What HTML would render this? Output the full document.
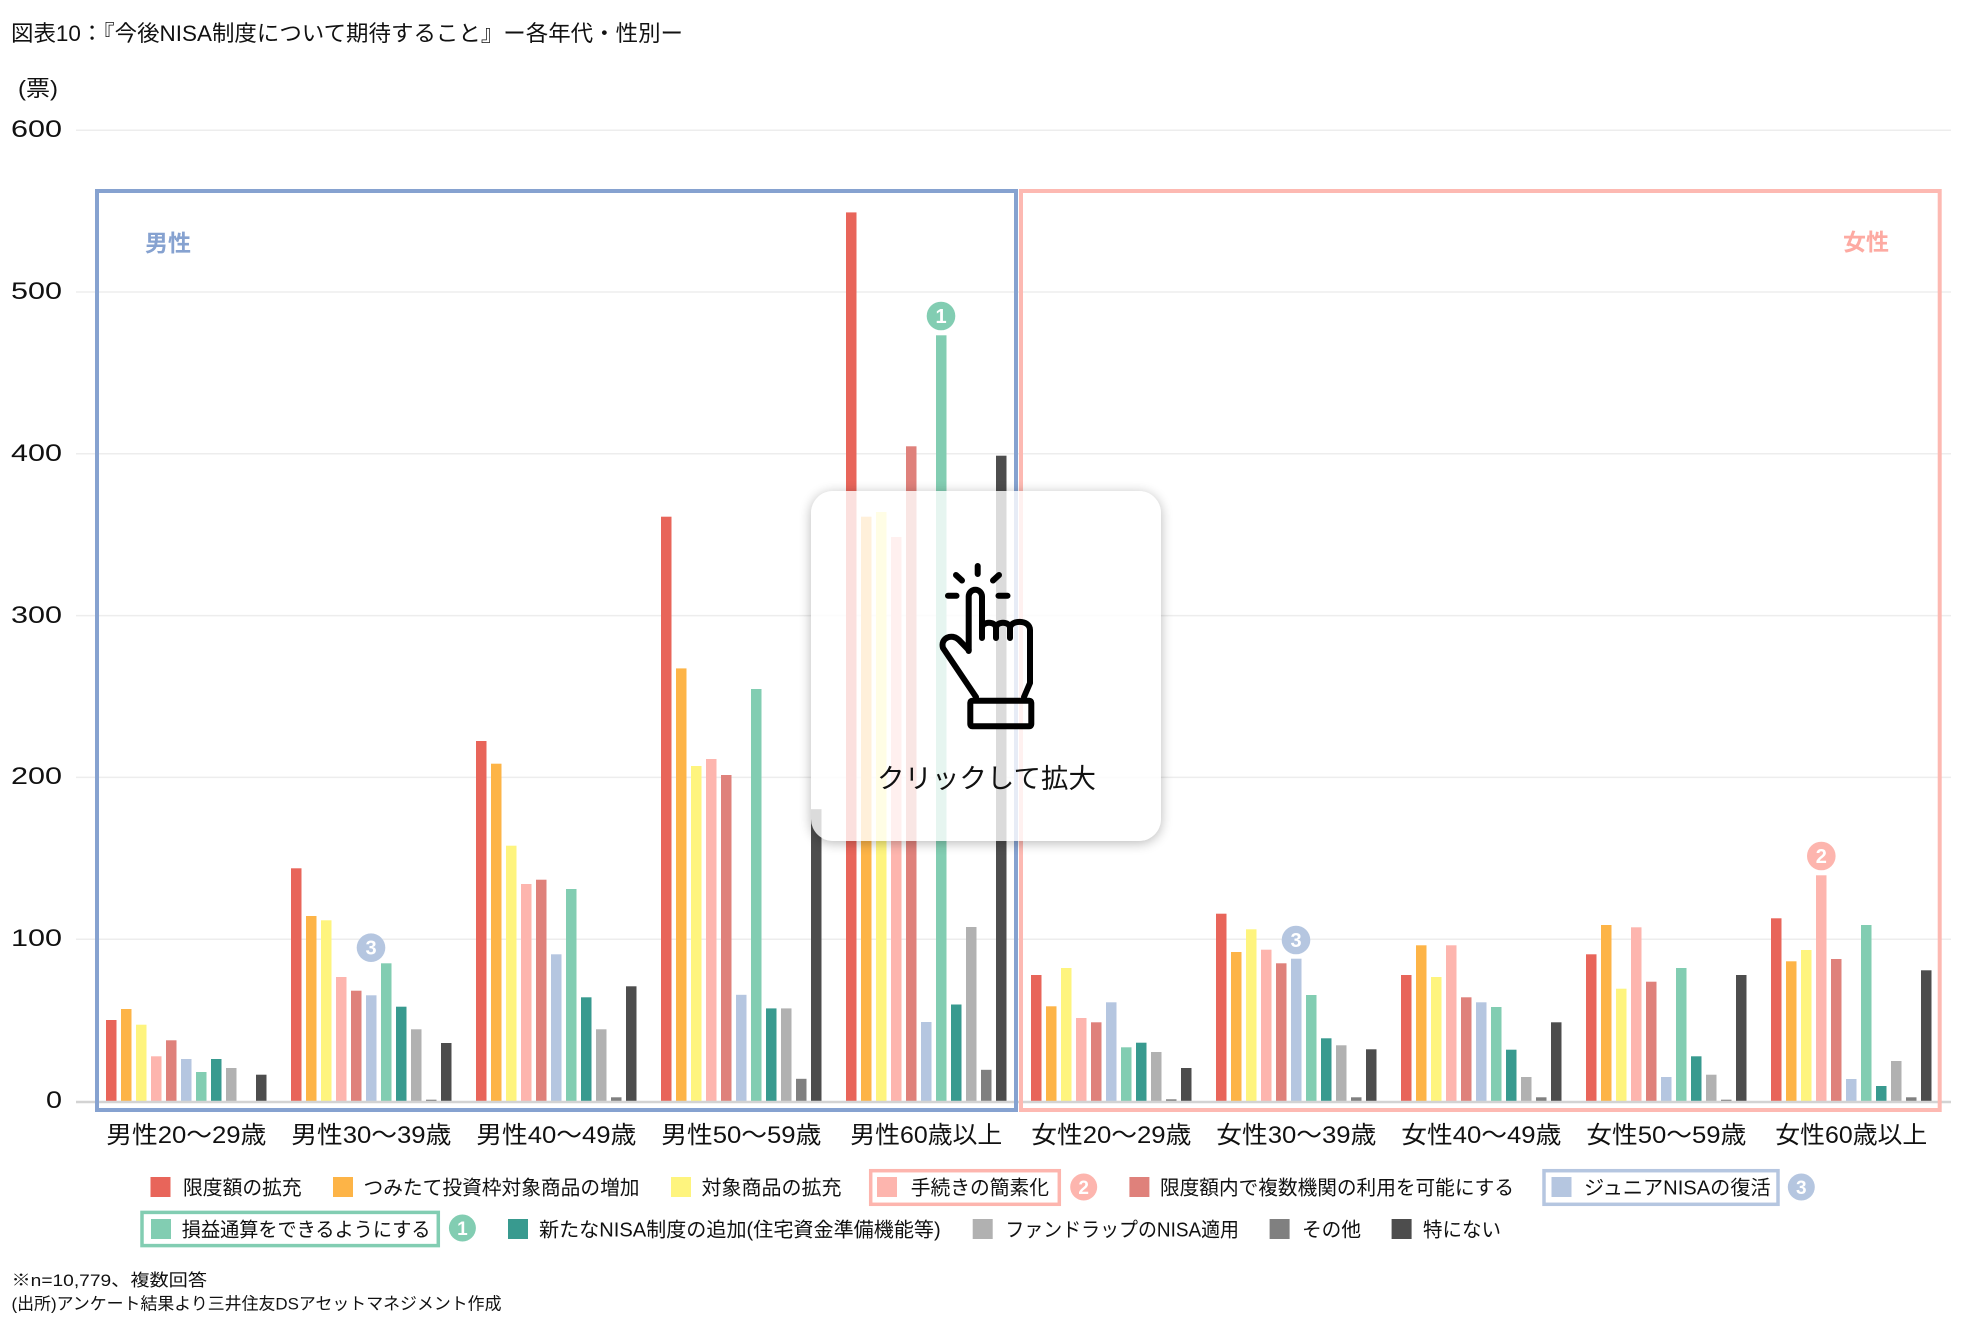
<!DOCTYPE html>
<html><head><meta charset="utf-8"><style>
html,body{margin:0;padding:0;background:#fff;}
body{width:1973px;height:1332px;overflow:hidden;}
svg{display:block;}
text{font-family:"Liberation Sans","Noto Sans CJK JP",sans-serif;}
</style></head><body>
<svg width="1973" height="1332" viewBox="0 0 1973 1332" xmlns="http://www.w3.org/2000/svg">
<defs>
<filter id="blur" x="-20%" y="-20%" width="140%" height="140%"><feGaussianBlur stdDeviation="6"/></filter>
<mask id="outside" maskUnits="userSpaceOnUse" x="0" y="0" width="1973" height="1332">
<rect x="0" y="0" width="1973" height="1332" fill="#fff"/>
<rect x="811" y="491" width="350" height="350" rx="22" fill="#000"/>
</mask>
</defs>
<rect width="1973" height="1332" fill="#fff"/>
<!-- title -->
<text x="11" y="41" font-size="22" fill="#111" textLength="672" lengthAdjust="spacingAndGlyphs">図表10：『今後NISA制度について期待すること』ー各年代・性別ー</text>
<text x="18" y="96" font-size="22" fill="#111" textLength="40" lengthAdjust="spacingAndGlyphs">(票)</text>
<!-- gridlines -->
<g stroke="#ededed" stroke-width="1.5">
<line x1="76" y1="130.2" x2="1951" y2="130.2"/>
<line x1="76" y1="292" x2="1951" y2="292"/>
<line x1="76" y1="453.8" x2="1951" y2="453.8"/>
<line x1="76" y1="615.6" x2="1951" y2="615.6"/>
<line x1="76" y1="777.4" x2="1951" y2="777.4"/>
<line x1="76" y1="939.2" x2="1951" y2="939.2"/>
</g>
<!-- y labels -->
<g font-size="24" fill="#111">
<text x="11" y="137" textLength="51" lengthAdjust="spacingAndGlyphs">600</text>
<text x="11" y="299" textLength="51" lengthAdjust="spacingAndGlyphs">500</text>
<text x="11" y="461" textLength="51" lengthAdjust="spacingAndGlyphs">400</text>
<text x="11" y="623" textLength="51" lengthAdjust="spacingAndGlyphs">300</text>
<text x="11" y="784" textLength="51" lengthAdjust="spacingAndGlyphs">200</text>
<text x="11" y="946" textLength="51" lengthAdjust="spacingAndGlyphs">100</text>
<text x="46" y="1108" textLength="16" lengthAdjust="spacingAndGlyphs">0</text>
</g>
<!-- bars -->
<g fill="#e8655a">
<rect x="106" y="1020" width="10.5" height="81"/><rect x="291" y="868.3" width="10.5" height="232.7"/><rect x="476" y="741" width="10.5" height="360"/><rect x="661" y="516.7" width="10.5" height="584.3"/><rect x="846" y="212.4" width="10.5" height="888.6"/><rect x="1031" y="975" width="10.5" height="126"/><rect x="1216" y="913.7" width="10.5" height="187.3"/><rect x="1401" y="975" width="10.5" height="126"/><rect x="1586" y="954.3" width="10.5" height="146.7"/><rect x="1771" y="918.3" width="10.5" height="182.7"/>
</g>
<g fill="#fdb447">
<rect x="121" y="1009" width="10.5" height="92"/><rect x="306" y="916" width="10.5" height="185"/><rect x="491" y="763.7" width="10.5" height="337.3"/><rect x="676" y="668.4" width="10.5" height="432.6"/><rect x="861" y="516.7" width="10.5" height="584.3"/><rect x="1046" y="1006.3" width="10.5" height="94.7"/><rect x="1231" y="952" width="10.5" height="149"/><rect x="1416" y="945.3" width="10.5" height="155.7"/><rect x="1601" y="925" width="10.5" height="176"/><rect x="1786" y="961.3" width="10.5" height="139.7"/>
</g>
<g fill="#fef47e">
<rect x="136" y="1024.7" width="10.5" height="76.3"/><rect x="321" y="920.3" width="10.5" height="180.7"/><rect x="506" y="845.7" width="10.5" height="255.3"/><rect x="691" y="766" width="10.5" height="335"/><rect x="876" y="512" width="10.5" height="589"/><rect x="1061" y="968" width="10.5" height="133"/><rect x="1246" y="929.3" width="10.5" height="171.7"/><rect x="1431" y="977" width="10.5" height="124"/><rect x="1616" y="988.7" width="10.5" height="112.3"/><rect x="1801" y="950" width="10.5" height="151"/>
</g>
<g fill="#fdb5ae">
<rect x="151" y="1056.3" width="10.5" height="44.7"/><rect x="336" y="977" width="10.5" height="124"/><rect x="521" y="884" width="10.5" height="217"/><rect x="706" y="759" width="10.5" height="342"/><rect x="891" y="537" width="10.5" height="564"/><rect x="1076" y="1018" width="10.5" height="83"/><rect x="1261" y="949.7" width="10.5" height="151.3"/><rect x="1446" y="945.3" width="10.5" height="155.7"/><rect x="1631" y="927.3" width="10.5" height="173.7"/><rect x="1816" y="875.3" width="10.5" height="225.7"/>
</g>
<g fill="#df817b">
<rect x="166" y="1040.3" width="10.5" height="60.7"/><rect x="351" y="990.7" width="10.5" height="110.3"/><rect x="536" y="879.7" width="10.5" height="221.3"/><rect x="721" y="775" width="10.5" height="326"/><rect x="906" y="446.3" width="10.5" height="654.7"/><rect x="1091" y="1022.3" width="10.5" height="78.7"/><rect x="1276" y="963.3" width="10.5" height="137.7"/><rect x="1461" y="997.3" width="10.5" height="103.7"/><rect x="1646" y="981.7" width="10.5" height="119.3"/><rect x="1831" y="959" width="10.5" height="142"/>
</g>
<g fill="#b5c6e0">
<rect x="181" y="1059" width="10.5" height="42"/><rect x="366" y="995.3" width="10.5" height="105.7"/><rect x="551" y="954.3" width="10.5" height="146.7"/><rect x="736" y="994.8" width="10.5" height="106.2"/><rect x="921" y="1022" width="10.5" height="79"/><rect x="1106" y="1002.3" width="10.5" height="98.7"/><rect x="1291" y="958.7" width="10.5" height="142.3"/><rect x="1476" y="1002.3" width="10.5" height="98.7"/><rect x="1661" y="1077" width="10.5" height="24"/><rect x="1846" y="1079" width="10.5" height="22"/>
</g>
<g fill="#82cdb2">
<rect x="196" y="1072" width="10.5" height="29"/><rect x="381" y="963.3" width="10.5" height="137.7"/><rect x="566" y="889" width="10.5" height="212"/><rect x="751" y="689" width="10.5" height="412"/><rect x="936" y="335.3" width="10.5" height="765.7"/><rect x="1121" y="1047.3" width="10.5" height="53.7"/><rect x="1306" y="995" width="10.5" height="106"/><rect x="1491" y="1007" width="10.5" height="94"/><rect x="1676" y="968" width="10.5" height="133"/><rect x="1861" y="925" width="10.5" height="176"/>
</g>
<g fill="#389a8f">
<rect x="211" y="1059" width="10.5" height="42"/><rect x="396" y="1006.7" width="10.5" height="94.3"/><rect x="581" y="997.3" width="10.5" height="103.7"/><rect x="766" y="1008.4" width="10.5" height="92.6"/><rect x="951" y="1004.5" width="10.5" height="96.5"/><rect x="1136" y="1042.7" width="10.5" height="58.3"/><rect x="1321" y="1038.3" width="10.5" height="62.7"/><rect x="1506" y="1049.7" width="10.5" height="51.3"/><rect x="1691" y="1056.3" width="10.5" height="44.7"/><rect x="1876" y="1086" width="10.5" height="15"/>
</g>
<g fill="#b1b1b1">
<rect x="226" y="1068" width="10.5" height="33"/><rect x="411" y="1029.3" width="10.5" height="71.7"/><rect x="596" y="1029.3" width="10.5" height="71.7"/><rect x="781" y="1008.4" width="10.5" height="92.6"/><rect x="966" y="927" width="10.5" height="174"/><rect x="1151" y="1052" width="10.5" height="49"/><rect x="1336" y="1045.3" width="10.5" height="55.7"/><rect x="1521" y="1077" width="10.5" height="24"/><rect x="1706" y="1074.7" width="10.5" height="26.3"/><rect x="1891" y="1061" width="10.5" height="40"/>
</g>
<g fill="#808080">
<rect x="426" y="1099.7" width="10.5" height="1.3"/><rect x="611" y="1097.3" width="10.5" height="3.7"/><rect x="796" y="1078.8" width="10.5" height="22.2"/><rect x="981" y="1069.8" width="10.5" height="31.2"/><rect x="1166" y="1099.3" width="10.5" height="1.7"/><rect x="1351" y="1097.3" width="10.5" height="3.7"/><rect x="1536" y="1097.3" width="10.5" height="3.7"/><rect x="1721" y="1099.7" width="10.5" height="1.3"/><rect x="1906" y="1097.3" width="10.5" height="3.7"/>
</g>
<g fill="#4d4d4d">
<rect x="256" y="1074.7" width="10.5" height="26.3"/><rect x="441" y="1043" width="10.5" height="58"/><rect x="626" y="986.3" width="10.5" height="114.7"/><rect x="811" y="809.2" width="10.5" height="291.8"/><rect x="996" y="455.7" width="10.5" height="645.3"/><rect x="1181" y="1068" width="10.5" height="33"/><rect x="1366" y="1049.3" width="10.5" height="51.7"/><rect x="1551" y="1022.3" width="10.5" height="78.7"/><rect x="1736" y="975" width="10.5" height="126"/><rect x="1921" y="970.3" width="10.5" height="130.7"/>
</g>
<!-- zero line -->
<line x1="76" y1="1102" x2="1951" y2="1102" stroke="#d3d3d3" stroke-width="2.5"/>
<!-- group boxes -->
<rect x="97" y="191" width="919" height="919" fill="none" stroke="#86a2d0" stroke-width="4"/>
<rect x="1021" y="191" width="918.7" height="919" fill="none" stroke="#fdb9b2" stroke-width="4"/>
<text x="145" y="251" font-size="23" font-weight="bold" fill="#86a2d0" textLength="46" lengthAdjust="spacingAndGlyphs">男性</text>
<text x="1843" y="250" font-size="23" font-weight="bold" fill="#fdaaa2" textLength="46" lengthAdjust="spacingAndGlyphs">女性</text>
<!-- chart badges -->
<g font-size="20" font-weight="bold" fill="#fff" text-anchor="middle">
<circle cx="371" cy="947.7" r="14.3" fill="#b5c6e0"/><text x="371" y="954.7">3</text>
<circle cx="1296" cy="940" r="14.3" fill="#b5c6e0"/><text x="1296" y="947">3</text>
<circle cx="1821.3" cy="856" r="14.3" fill="#fdb5ae"/><text x="1821.3" y="863">2</text>
<circle cx="941" cy="316" r="14.3" fill="#82cdb2"/><text x="941" y="323">1</text>
</g>
<!-- x labels -->
<g font-size="24" fill="#111" text-anchor="middle">
<text x="186.3" y="1143" textLength="160" lengthAdjust="spacingAndGlyphs">男性20〜29歳</text>
<text x="371.3" y="1143" textLength="160" lengthAdjust="spacingAndGlyphs">男性30〜39歳</text>
<text x="556.3" y="1143" textLength="160" lengthAdjust="spacingAndGlyphs">男性40〜49歳</text>
<text x="741.3" y="1143" textLength="160" lengthAdjust="spacingAndGlyphs">男性50〜59歳</text>
<text x="926.3" y="1143" textLength="152" lengthAdjust="spacingAndGlyphs">男性60歳以上</text>
<text x="1111.3" y="1143" textLength="160" lengthAdjust="spacingAndGlyphs">女性20〜29歳</text>
<text x="1296.3" y="1143" textLength="160" lengthAdjust="spacingAndGlyphs">女性30〜39歳</text>
<text x="1481.3" y="1143" textLength="160" lengthAdjust="spacingAndGlyphs">女性40〜49歳</text>
<text x="1666.3" y="1143" textLength="160" lengthAdjust="spacingAndGlyphs">女性50〜59歳</text>
<text x="1851.3" y="1143" textLength="152" lengthAdjust="spacingAndGlyphs">女性60歳以上</text>
</g>
<!-- legend -->
<g font-size="20" fill="#111">
<rect x="150.5" y="1177" width="20" height="20" fill="#e8655a"/>
<text x="183" y="1194.5" textLength="118.7" lengthAdjust="spacingAndGlyphs">限度額の拡充</text>
<rect x="333" y="1177" width="20" height="20" fill="#fdb447"/>
<text x="363.5" y="1194.5" textLength="276" lengthAdjust="spacingAndGlyphs">つみたて投資枠対象商品の増加</text>
<rect x="671" y="1177" width="20" height="20" fill="#fef47e"/>
<text x="701.5" y="1194.5" textLength="140" lengthAdjust="spacingAndGlyphs">対象商品の拡充</text>
<rect x="870.7" y="1170.7" width="188.6" height="33.6" fill="none" stroke="#fdb5ae" stroke-width="3.5"/>
<rect x="877" y="1177" width="20" height="20" fill="#fdb5ae"/>
<text x="910.7" y="1194.5" textLength="138.3" lengthAdjust="spacingAndGlyphs">手続きの簡素化</text>
<rect x="1129.4" y="1177" width="20" height="20" fill="#df817b"/>
<text x="1160" y="1194.5" textLength="354" lengthAdjust="spacingAndGlyphs">限度額内で複数機関の利用を可能にする</text>
<rect x="1544" y="1170.7" width="234" height="33.6" fill="none" stroke="#b5c6e0" stroke-width="3.5"/>
<rect x="1551.5" y="1177" width="20" height="20" fill="#b5c6e0"/>
<text x="1584" y="1194.5" textLength="186.6" lengthAdjust="spacingAndGlyphs">ジュニアNISAの復活</text>
<rect x="142" y="1212.4" width="296.3" height="33.2" fill="none" stroke="#82cdb2" stroke-width="3.5"/>
<rect x="151" y="1219" width="20" height="20" fill="#82cdb2"/>
<text x="181.8" y="1236.5" textLength="248.7" lengthAdjust="spacingAndGlyphs">損益通算をできるようにする</text>
<rect x="508" y="1219" width="20" height="20" fill="#389a8f"/>
<text x="539" y="1236.5" textLength="401.7" lengthAdjust="spacingAndGlyphs">新たなNISA制度の追加(住宅資金準備機能等)</text>
<rect x="972.7" y="1219" width="20" height="20" fill="#b1b1b1"/>
<text x="1005.4" y="1236.5" textLength="233.6" lengthAdjust="spacingAndGlyphs">ファンドラップのNISA適用</text>
<rect x="1269.6" y="1219" width="20" height="20" fill="#808080"/>
<text x="1302" y="1236.5" textLength="59" lengthAdjust="spacingAndGlyphs">その他</text>
<rect x="1391.6" y="1219" width="20" height="20" fill="#4d4d4d"/>
<text x="1423" y="1236.5" textLength="78" lengthAdjust="spacingAndGlyphs">特にない</text>
</g>
<g font-size="19" font-weight="bold" fill="#fff" text-anchor="middle">
<circle cx="1083.7" cy="1187" r="13.5" fill="#fdb5ae"/><text x="1083.7" y="1194">2</text>
<circle cx="1801.3" cy="1187" r="13.5" fill="#b5c6e0"/><text x="1801.3" y="1194">3</text>
<circle cx="462.4" cy="1228" r="13.5" fill="#82cdb2"/><text x="462.4" y="1235">1</text>
</g>
<!-- footnotes -->
<g font-size="17" fill="#111">
<text x="11.5" y="1286" textLength="195.5" lengthAdjust="spacingAndGlyphs">※n=10,779、複数回答</text>
<text x="11.5" y="1309.5" textLength="490" lengthAdjust="spacingAndGlyphs">(出所)アンケート結果より三井住友DSアセットマネジメント作成</text>
</g>
<!-- popup -->
<rect x="811" y="493" width="350" height="350" rx="22" fill="#000" opacity="0.28" filter="url(#blur)" mask="url(#outside)"/>
<rect x="811" y="491" width="350" height="350" rx="22" fill="#fff" fill-opacity="0.8"/>
<g fill="none" stroke="#000" stroke-width="6" stroke-linecap="round" stroke-linejoin="round">
<path d="M968.7 651 L968.7 596.4 A6.65 6.65 0 0 1 982 596.4 L982 638"/>
<path d="M982 628 C982 621 996 621 996 628 C996 621 1010 621 1010 628 C1010 620 1030 619 1030 630 L1030 683 L1024 697"/>
<path d="M996 628 L996 638 M1010 628 L1010 638"/>
<path d="M968.7 650 L959 640 C952 633 940 638 943 648 L976 697"/>
<rect x="970.3" y="700.7" width="61" height="25.6" rx="2"/>
<path d="M977.7 566 L977.7 574 M956 575 L962 580.5 M993 580.5 L999 575 M948 595.7 L956.5 595.7 M998.5 595.7 L1007.5 595.7"/>
</g>
<text x="877" y="788" font-size="27" fill="#111" textLength="219" lengthAdjust="spacingAndGlyphs">クリックして拡大</text>
</svg>
</body></html>
